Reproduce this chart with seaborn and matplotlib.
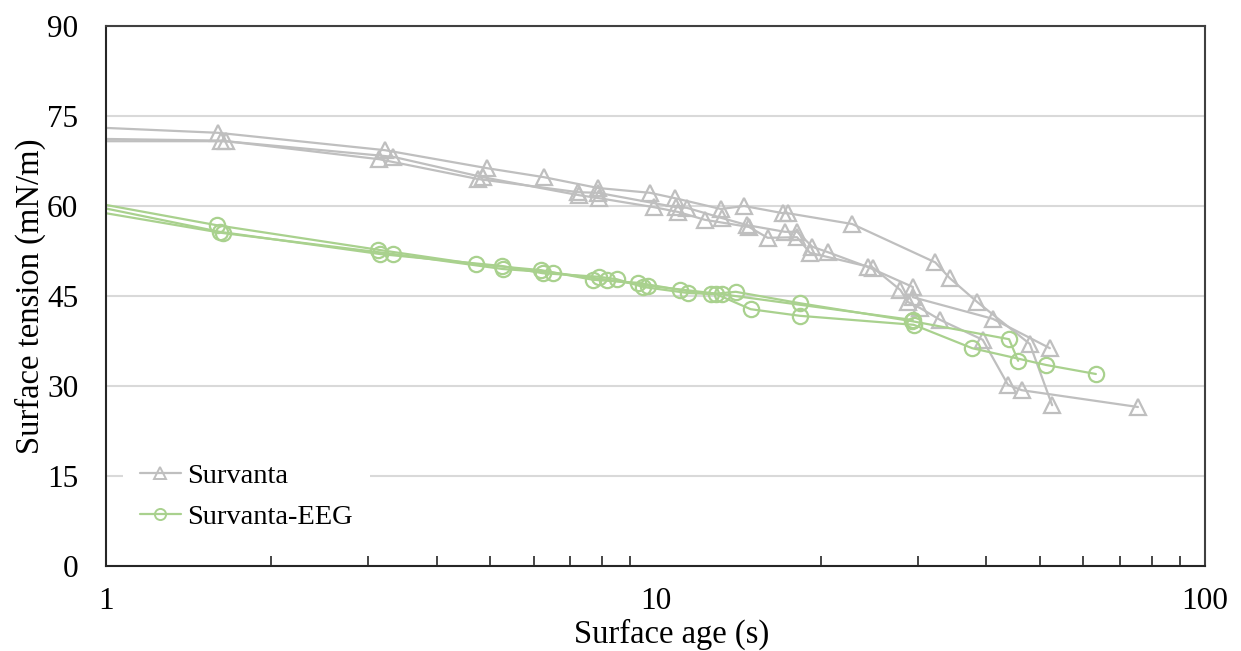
"""Surface tension vs surface age for Survanta and Survanta-EEG runs."""

import matplotlib

matplotlib.use("Agg")
import matplotlib.pyplot as plt
import numpy as np
import pandas as pd
import seaborn as sns
from matplotlib.lines import Line2D
from matplotlib.ticker import FixedLocator, NullFormatter, LogLocator

GRAY = "#BFBFBF"
GREEN = "#A9D18E"
GRID = "#D9D9D9"

# Survanta, three runs (surface age in s, surface tension in mN/m)
surv_a_age = [0.8, 1.6, 3.22, 4.94, 6.27, 7.86, 9.77, 10.85, 13.15, 14.5, 17.06, 17.4,
              22.8, 32.3, 34.3, 38.5, 48.0, 52.7]
surv_a_st = [73.4, 72.2, 69.3, 66.3, 64.8, 63.0, 62.2, 61.3, 59.5, 60.0, 58.8, 58.8,
             57.0, 50.6, 48.0, 44.0, 37.0, 26.8]

surv_b_age = [0.8, 1.62, 3.14, 4.75, 7.23, 7.86, 10.9, 11.4, 13.2, 14.7, 17.2, 18.1,
              19.3, 20.6, 24.4, 29.4, 29.4, 41.1, 52.2]
surv_b_st = [71.3, 70.9, 67.8, 64.5, 62.3, 62.2, 59.8, 59.7, 58.0, 56.8, 55.7, 55.7,
             53.2, 52.3, 49.8, 46.5, 44.8, 41.2, 36.3]

surv_c_age = [0.8, 1.65, 3.33, 4.85, 7.26, 7.9, 9.94, 11.0, 12.3, 14.8, 16.0, 18.1,
              19.1, 24.9, 27.9, 28.8, 30.3, 33.0, 39.4, 43.8, 46.4, 75.5]
surv_c_st = [70.8, 70.8, 68.2, 64.8, 61.8, 61.3, 59.8, 59.0, 57.7, 56.5, 54.7, 54.8,
             52.2, 49.7, 46.0, 44.0, 43.0, 41.0, 37.7, 30.2, 29.3, 26.5]

# Survanta-EEG, three runs
eeg_a_age = [0.8, 1.59, 3.13, 4.72, 6.2, 7.7, 9.3, 11.1, 12.6, 14.0, 18.3, 29.3, 44.0, 45.7]
eeg_a_st = [61.8, 56.8, 52.7, 50.3, 49.3, 47.7, 47.2, 46.0, 45.3, 45.7, 43.8, 40.8, 37.8, 34.2]

eeg_b_age = [0.8, 1.61, 3.15, 5.25, 6.23, 7.9, 8.5, 9.5, 11.45, 12.9, 14.9, 18.3, 29.5,
             37.7, 51.4, 63.3]
eeg_b_st = [61.4, 55.7, 52.0, 50.0, 48.8, 48.2, 47.8, 46.5, 45.5, 45.3, 42.8, 41.7, 40.2,
            36.3, 33.5, 32.0]

eeg_c_age = [0.8, 1.63, 3.33, 5.27, 6.5, 8.17, 9.7, 13.2, 29.4]
eeg_c_st = [60.3, 55.5, 52.0, 49.5, 48.9, 47.7, 46.7, 45.3, 41.0]

SERIES = ["Survanta", "Survanta-EEG"]
Y_TICKS = [0, 15, 30, 45, 60, 75, 90]
X_TICKS = [1, 10, 100]


def build_frame():
    runs = [
        ("Survanta", "s1", surv_a_age, surv_a_st),
        ("Survanta", "s2", surv_b_age, surv_b_st),
        ("Survanta", "s3", surv_c_age, surv_c_st),
        ("Survanta-EEG", "e1", eeg_a_age, eeg_a_st),
        ("Survanta-EEG", "e2", eeg_b_age, eeg_b_st),
        ("Survanta-EEG", "e3", eeg_c_age, eeg_c_st),
    ]
    parts = []
    for series, run, age, st in runs:
        parts.append(pd.DataFrame({"series": series, "run": run, "age": age, "st": st}))
    return pd.concat(parts, ignore_index=True)


def main():
    sns.set_theme(style="white")
    plt.rcParams["font.family"] = ["Liberation Serif", "DejaVu Serif"]
    plt.rcParams["text.color"] = "black"
    plt.rcParams["axes.labelcolor"] = "black"
    plt.rcParams["xtick.labelcolor"] = "black"
    plt.rcParams["ytick.labelcolor"] = "black"

    data = build_frame()
    fig = plt.figure(figsize=(12.41, 6.51), dpi=100)
    ax = fig.add_axes([106 / 1241, 1 - 566 / 651, 1099 / 1241, 540 / 651])

    ax.yaxis.grid(True, color=GRID, linewidth=1.5, zorder=0)
    ax.set_axisbelow(True)

    sns.lineplot(
        data=data, x="age", y="st", hue="series", style="series", units="run",
        estimator=None, sort=False, palette={"Survanta": GRAY, "Survanta-EEG": GREEN},
        markers={"Survanta": "^", "Survanta-EEG": "o"}, dashes=False,
        linewidth=1.6, markersize=11, legend=False, ax=ax,
    )
    for line in ax.get_lines():
        line.set_markeredgecolor(line.get_color())
        line.set_markerfacecolor("none")
        line.set_markeredgewidth(1.6)

    ax.set_xscale("log")
    ax.set_xlim(1, 100)
    ax.set_ylim(0, 90)
    ax.xaxis.set_major_locator(FixedLocator(X_TICKS))
    ax.set_xticklabels([str(t) for t in X_TICKS])
    ax.xaxis.set_minor_locator(LogLocator(base=10, subs=np.arange(2, 10)))
    ax.xaxis.set_minor_formatter(NullFormatter())
    ax.set_yticks(Y_TICKS)

    ax.tick_params(axis="both", which="both", direction="in", labelsize=22.5,
                   color="#262626", labelcolor="black", width=1.2)
    ax.tick_params(axis="x", which="major", length=7, pad=15)
    ax.tick_params(axis="x", which="minor", length=7, bottom=True)
    ax.tick_params(axis="y", which="major", length=7, pad=20)

    for side, spine in ax.spines.items():
        spine.set_visible(True)
        spine.set_color("#262626" if side in ("left", "bottom") else "#404040")
        spine.set_linewidth(1.5)

    ax.set_xlabel("Surface age (s)", fontsize=23.5, labelpad=0, color="black")
    ax.set_ylabel("Surface tension (mN/m)", fontsize=23.5, color="black")
    ax.xaxis.set_label_coords(0.515, -0.097)
    ax.yaxis.set_label_coords(-0.055, 0.5)

    handles = [
        Line2D([], [], color=GRAY, marker="^", markersize=8, markerfacecolor="none",
               markeredgecolor=GRAY, linewidth=1.6, markeredgewidth=1.4),
        Line2D([], [], color=GREEN, marker="o", markersize=8, markerfacecolor="none",
               markeredgecolor=GREEN, linewidth=1.6, markeredgewidth=1.4),
    ]
    leg = ax.legend(handles, SERIES, loc="lower left", bbox_to_anchor=(0.023, 0.05),
                    fontsize=20.5, frameon=True, handlelength=1.45, handletextpad=0.2,
                    labelspacing=0.55, borderpad=0.3, borderaxespad=0)
    for text in leg.get_texts():
        text.set_color("black")
    leg.get_frame().set_facecolor("white")
    leg.get_frame().set_edgecolor("none")
    leg.get_frame().set_alpha(1)
    leg.get_frame().set_boxstyle("square", pad=0.3)

    fig.savefig("out.png", dpi=100, facecolor="white")
    plt.close(fig)


if __name__ == "__main__":
    main()
